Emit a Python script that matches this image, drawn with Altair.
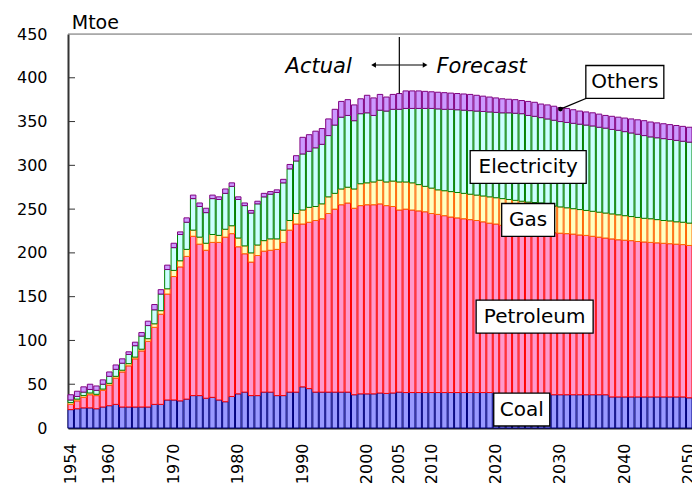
import altair as alt
import pandas as pd

years = list(range(1954, 2051))

coal = [21, 22, 23, 23, 22, 24, 25.5, 27, 24, 24, 24, 24, 24, 27, 27, 32, 32, 31, 33, 37,
        37, 34, 35, 32, 30, 36, 39, 41, 37, 37, 41, 41, 37, 37, 41, 41, 47, 45, 41, 41,
        41, 41, 41, 41, 38, 39, 39, 39, 40, 39.5, 40, 41, 40.5, 40.5, 40.5, 40.5, 40.5, 40.5, 40.5, 40.5,
        40.5, 40.5, 40.5, 40.5, 40.5, 40.5, 39.5, 39.5, 39.5, 39.5, 39.5, 39.5, 39.5, 39.5, 39.5, 38,
        38, 38, 38, 38, 38, 38, 38, 38, 35.5, 35.5, 35.5, 35.5, 35.5, 35.5, 35.5, 35.5, 35.5, 35.5,
        35.5, 35.5, 34.5]
petroleum = [6, 9, 12, 15, 15, 19, 23.5, 30, 40, 47, 55, 64, 75, 88, 103, 121, 141, 153, 163, 182,
             173, 169, 177, 180, 188, 186, 168, 158, 152.5, 160, 161, 162, 167, 175, 185, 192, 186, 190, 196, 198,
             204, 209, 214, 216, 213, 215, 216, 216, 216, 214.5, 213, 208, 209.5, 208.5, 207.5, 206.5, 204.5, 203.5, 202, 200.5,
             199.5, 198.5, 197.5, 196.5, 195, 193.5, 193.5, 192, 190.5, 189, 187.5, 186.5, 186, 185.5, 184.5, 185,
             184.5, 184, 183.5, 182.5, 182, 181, 180, 179, 180.5, 179.5, 179, 178.5, 177.5, 177, 176.5, 176, 175.5, 175,
             174.5, 174, 174]
gas = [2, 2, 2, 2, 1.5, 1.5, 2, 2, 2, 2.5, 2, 2, 3, 4, 4, 6, 7, 7, 8, 7,
       8, 8, 9, 8, 9, 9, 10, 9, 10.5, 12, 12, 13, 12, 14, 11, 12, 16, 17, 16, 17,
       19, 18, 18, 18, 22, 25, 25, 26, 27, 27, 29, 32, 31, 31, 30, 29, 29, 28, 28.5, 29,
       29, 29, 29, 29, 29.5, 30, 30, 30.5, 31, 31.5, 32, 32, 32, 32, 31, 30.5,
       30, 29.5, 29, 29, 28.5, 28.5, 28.5, 28.5, 28.5, 28.5, 28, 27.5, 27.5, 27, 27, 26.5, 26, 26,
       25.5, 25.5, 25.5]
electricity = [3, 3, 4, 4, 4.5, 5.5, 8, 8, 8, 10.5, 13, 15, 15, 16, 19, 22, 26, 30, 31, 36,
               35, 35, 41, 41, 41, 45, 44, 46, 45.5, 47, 50, 51, 53, 54, 59, 60, 64, 64, 67, 68,
               70, 78, 82, 82, 78, 80, 80, 76, 80, 81, 82, 83, 84, 85, 87, 89, 91, 92.5, 93, 94,
               94.5, 95, 95.5, 96, 96.5, 97, 97.5, 98, 99, 99.5, 100, 99, 98.5, 97.5, 98, 98,
               97.5, 97.5, 97.5, 97.5, 97.5, 97.5, 97, 97, 96.5, 96.5, 96, 95.5, 95, 94.5, 93.5, 93.5, 93.5, 93,
               93, 92.5, 92.5]
others = [6, 6, 6, 6, 5, 5, 5, 5, 5, 3, 4, 4, 5, 6, 5, 5, 5, 3, 5, 4,
          4, 5, 4, 3, 5, 4, 3, 3, 3, 3, 4, 3, 3, 4, 5, 6, 19, 19, 19, 18,
          19, 18, 18, 18, 18, 17, 20, 20, 18, 16, 17, 18, 20, 20, 20, 19.5, 19, 19, 19, 18.5,
          18.5, 18.5, 18.5, 18, 17.5, 17, 16.5, 16, 15.5, 15.5, 15, 16, 16, 15.5, 16, 16,
          16, 16, 15.5, 15, 15, 15, 15, 14.5, 15, 15, 15.5, 16, 16.5, 17, 17, 17, 17, 17,
          17, 17, 17]

categories = ["Coal", "Petroleum", "Gas", "Electricity", "Others"]
fills = ["#9999FF", "#FF99CC", "#FFFFC0", "#CCFFFF", "#CC99FF"]
strokes = ["#000080", "#FF0000", "#FF6600", "#008000", "#800080"]
series = [coal, petroleum, gas, electricity, others]

tick_years = [1954, 1960, 1970, 1980, 1990, 2000, 2005, 2010, 2020, 2030, 2040, 2050]
y_ticks = [0, 50, 100, 150, 200, 250, 300, 350, 400, 450]
inner_ticks = [50, 100, 150, 200, 250, 300, 350, 400]

# label boxes: text, anchor year, low, high, box width (px)
box_labels = ["Others", "Electricity", "Gas", "Petroleum", "Coal"]
box_years = [2040, 2025, 2025, 2026, 2024]
box_lo = [376.4, 279.3, 218.8, 108.4, 2.3]
box_hi = [414.0, 316.9, 256.4, 146.0, 39.9]
box_w = [78, 116, 53, 117, 56]

rows = []
for i, yr in enumerate(years):
    for k, cat in enumerate(categories):
        rows.append({"year": yr, "category": cat, "value": series[k][i], "order": k})
df = pd.DataFrame(rows)

boxes = pd.DataFrame({
    "year": box_years, "lo": box_lo, "hi": box_hi, "w": box_w, "label": box_labels,
    "mid": [(a + b) / 2 for a, b in zip(box_lo, box_hi)],
})

FONT = "DejaVu Sans"
W, H = 624, 394

x_enc = alt.X(
    "year:O",
    scale=alt.Scale(paddingInner=0.15, paddingOuter=0),
    axis=alt.Axis(values=tick_years, labelAngle=270, labelFont=FONT, labelFontSize=16,
                  labelColor="#000", ticks=False, tickSize=0, labelPadding=15,
                  domainColor="#222", domainWidth=2, grid=False),
    title=None,
)
y_scale = alt.Scale(domain=[0, 450], nice=False, zero=True)
y_axis = alt.Axis(values=y_ticks, labelFont=FONT, labelFontSize=16, labelColor="#000",
                  ticks=False, tickSize=0, labelPadding=21, domainColor="#333",
                  domainWidth=2, grid=False)

bars = alt.Chart(df).mark_bar(strokeWidth=1).encode(
    x=x_enc,
    y=alt.Y("value:Q", stack="zero", scale=y_scale, axis=y_axis, title=None),
    color=alt.Color("category:N", scale=alt.Scale(domain=categories, range=fills), legend=None),
    stroke=alt.Stroke("category:N", scale=alt.Scale(domain=categories, range=strokes), legend=None),
    order=alt.Order("order:Q"),
)

# inward y ticks
ticks_df = pd.DataFrame({"v": inner_ticks})
ticks = alt.Chart(ticks_df).mark_rule(color="#333", strokeWidth=1).encode(
    y=alt.Y("v:Q", scale=y_scale, axis=y_axis, title=None),
    x=alt.value(0), x2=alt.value(7),
)

# top frame line
top_df = pd.DataFrame({"v": [450]})
top_line = alt.Chart(top_df).mark_rule(color="#777", strokeWidth=1).encode(
    y=alt.Y("v:Q", scale=y_scale, axis=y_axis, title=None),
    x=alt.value(0), x2=alt.value(W),
)

# Mtoe unit label
mtoe = alt.Chart(pd.DataFrame({"year": [1954], "v": [450], "t": ["Mtoe"]})).mark_text(
    align="left", baseline="alphabetic", dx=1, dy=-5, font=FONT, fontSize=19, color="#000"
).encode(x=x_enc, y=alt.Y("v:Q", scale=y_scale, axis=y_axis, title=None), text="t:N")

# Actual / Forecast divider
div_df = pd.DataFrame({"year": [2005], "lo": [382], "hi": [446.6]})
divider = alt.Chart(div_df).mark_rule(color="#000", strokeWidth=1.2).encode(
    x=x_enc, y=alt.Y("lo:Q", scale=y_scale, axis=y_axis, title=None), y2="hi:Q")

arr_df = pd.DataFrame({"year": [2001], "year2": [2009], "v": [414.6]})
arrow_line = alt.Chart(arr_df).mark_rule(color="#000", strokeWidth=1.2).encode(
    x=x_enc, x2="year2:O", y=alt.Y("v:Q", scale=y_scale, axis=y_axis, title=None))
heads_df = pd.DataFrame({"year": [2001, 2009], "v": [414.6, 414.6],
                         "shape": ["triangle-left", "triangle-right"]})
heads = alt.Chart(heads_df).mark_point(filled=True, color="#000", size=30, opacity=1).encode(
    x=x_enc, y=alt.Y("v:Q", scale=y_scale, axis=y_axis, title=None),
    shape=alt.Shape("shape:N", scale=None))

act = alt.Chart(pd.DataFrame({"year": [1997], "v": [412.3], "t": ["Actual"]})).mark_text(
    align="right", baseline="middle", dx=4, font=FONT, fontSize=21, fontStyle="italic", color="#000"
).encode(x=x_enc, y=alt.Y("v:Q", scale=y_scale, axis=y_axis, title=None), text="t:N")
fc = alt.Chart(pd.DataFrame({"year": [2010], "v": [412.3], "t": ["Forecast"]})).mark_text(
    align="left", baseline="middle", dx=5, font=FONT, fontSize=21, fontStyle="italic", color="#000"
).encode(x=x_enc, y=alt.Y("v:Q", scale=y_scale, axis=y_axis, title=None), text="t:N")

# Others leader line
lead_df = pd.DataFrame({"year": [2036], "year2": [2030], "v": [382.6], "v2": [364.3]})
leader = alt.Chart(lead_df).mark_rule(color="#000", strokeWidth=1.3).encode(
    x=x_enc, x2="year2:O", y=alt.Y("v:Q", scale=y_scale, axis=y_axis, title=None), y2="v2:Q")
dot = alt.Chart(pd.DataFrame({"year": [2030], "v": [364.3]})).mark_point(
    filled=True, color="#000", size=22, opacity=1).encode(
    x=x_enc, y=alt.Y("v:Q", scale=y_scale, axis=y_axis, title=None))

box_rects = alt.Chart(boxes).mark_bar(fill="white", stroke="#000", strokeWidth=1.3).encode(
    x=x_enc, y=alt.Y("lo:Q", scale=y_scale, axis=y_axis, title=None), y2="hi:Q",
    size=alt.Size("w:Q", scale=None, legend=None))
box_text = alt.Chart(boxes).mark_text(
    align="center", baseline="middle", font=FONT, fontSize=20, color="#000").encode(
    x=x_enc, y=alt.Y("mid:Q", scale=y_scale, axis=y_axis, title=None), text="label:N")

chart = alt.layer(
    bars, ticks, top_line, mtoe, divider, arrow_line, heads, act, fc,
    leader, dot, box_rects, box_text
).properties(
    width=W, height=H,
    autosize=alt.AutoSizeParams(type="none"),
    padding={"left": 60, "top": 26, "right": 0, "bottom": 60},
).configure_view(stroke=None).configure(background="white")

chart.save("out.html", embed_options={"renderer": "svg", "actions": False})
